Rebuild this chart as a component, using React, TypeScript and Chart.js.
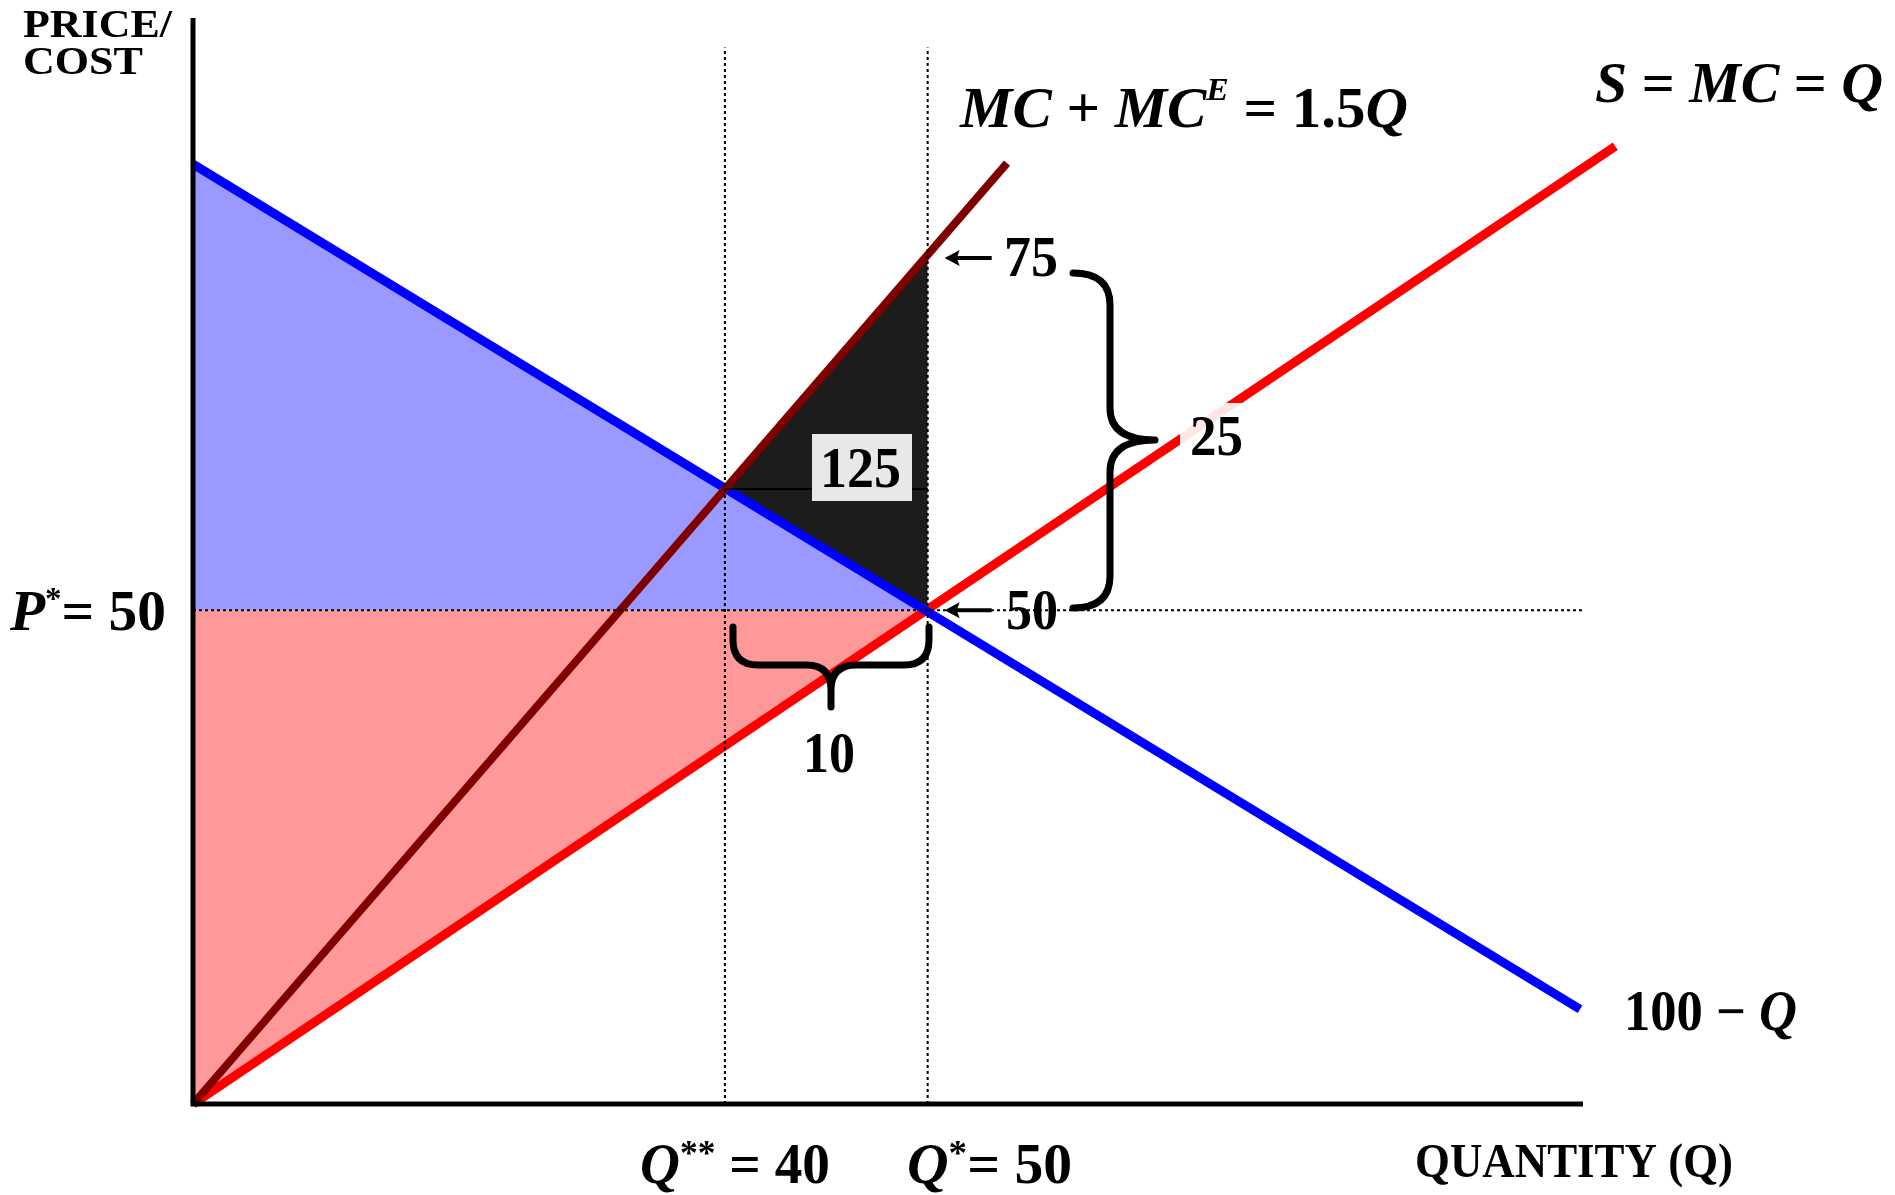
import React, { useEffect, useRef } from "react";
import { Chart, registerables } from "chart.js";

Chart.register(...registerables);

// ---- Plot extents (drawing units) ----
const X_MAX = 94.6;
const Y_MAX = 110;

// Demand: 100 − Q
const demandQ = [0, 94.4];
const demandP = [95.2, 9.6];
// Supply: S = MC = Q
const supplyQ = [0, 96.8];
const supplyP = [0, 97.0];
// Social cost: MC + MC^E = 1.5Q
const socialQ = [0, 55.4];
const socialP = [0, 95.3];

// Key points
const qStar = 50;
const pStar = 50;
const qStarStar = 36.2;
const pStarStar = 62.3;
const pSocialAtQStar = 86.0;
const guideTop = 107;

// Labels
const yAxisLabel = ["PRICE/", "COST"];
const xAxisLabel = "QUANTITY (Q)";
const dwlValue = "125";
const gapValue = "25";
const qGapValue = "10";
const upperValue = "75";
const lowerValue = "50";

const SERIF = "'Liberation Serif', 'Times New Roman', serif";
const B = (s: number) => `bold ${s}px ${SERIF}`;
const BI = (s: number) => `italic bold ${s}px ${SERIF}`;

type Run = { t: string; font: string; dy?: number };

function drawRuns(ctx: CanvasRenderingContext2D, runs: Run[], x: number, y: number, width?: number) {
  ctx.save();
  let total = 0;
  const ws = runs.map((r) => {
    ctx.font = r.font;
    const w = ctx.measureText(r.t).width;
    total += w;
    return w;
  });
  const sx = width ? width / total : 1;
  ctx.translate(x, y);
  ctx.scale(sx, 1);
  ctx.fillStyle = "#000";
  ctx.textBaseline = "alphabetic";
  ctx.textAlign = "left";
  let cx = 0;
  runs.forEach((r, i) => {
    ctx.font = r.font;
    ctx.fillText(r.t, cx, r.dy || 0);
    cx += ws[i];
  });
  ctx.restore();
}

function arrowLeft(ctx: CanvasRenderingContext2D, tipX: number, y: number, tailX: number) {
  ctx.save();
  ctx.strokeStyle = "#000";
  ctx.fillStyle = "#000";
  ctx.lineWidth = 4;
  ctx.beginPath();
  ctx.moveTo(tipX + 10, y);
  ctx.lineTo(tailX, y);
  ctx.stroke();
  ctx.beginPath();
  ctx.moveTo(tipX, y);
  ctx.lineTo(tipX + 15, y - 8);
  ctx.lineTo(tipX + 12, y);
  ctx.lineTo(tipX + 15, y + 8);
  ctx.closePath();
  ctx.fill();
  ctx.restore();
}

function braceRight(ctx: CanvasRenderingContext2D, xa: number, xv: number, xt: number, yt: number, ym: number, yb: number, r: number) {
  ctx.save();
  ctx.strokeStyle = "#000";
  ctx.lineWidth = 7;
  ctx.lineCap = "round";
  ctx.lineJoin = "round";
  ctx.beginPath();
  ctx.moveTo(xa, yt);
  ctx.quadraticCurveTo(xv, yt, xv, yt + r);
  ctx.lineTo(xv, ym - r);
  ctx.quadraticCurveTo(xv, ym, xt, ym);
  ctx.quadraticCurveTo(xv, ym, xv, ym + r);
  ctx.lineTo(xv, yb - r);
  ctx.quadraticCurveTo(xv, yb, xa, yb);
  ctx.stroke();
  ctx.restore();
}

function braceDown(ctx: CanvasRenderingContext2D, xl: number, xr: number, xt: number, yTop: number, yBar: number, yTip: number, r: number) {
  ctx.save();
  ctx.strokeStyle = "#000";
  ctx.lineWidth = 7;
  ctx.lineCap = "round";
  ctx.lineJoin = "round";
  ctx.beginPath();
  ctx.moveTo(xl, yTop);
  ctx.lineTo(xl, yBar - r);
  ctx.quadraticCurveTo(xl, yBar, xl + r, yBar);
  ctx.lineTo(xt - r, yBar);
  ctx.quadraticCurveTo(xt, yBar, xt, yBar + r);
  ctx.lineTo(xt, yTip);
  ctx.moveTo(xt, yBar + r);
  ctx.quadraticCurveTo(xt, yBar, xt + r, yBar);
  ctx.lineTo(xr - r, yBar);
  ctx.quadraticCurveTo(xr, yBar, xr, yBar - r);
  ctx.lineTo(xr, yTop);
  ctx.stroke();
  ctx.restore();
}

const annotations = {
  id: "annotations",
  afterDatasetsDraw(chart: any) {
    const ctx: CanvasRenderingContext2D = chart.ctx;
    const xs = chart.scales.x;
    const ys = chart.scales.y;
    const x0 = xs.getPixelForValue(0);
    const y0 = ys.getPixelForValue(0);
    const xEnd = xs.getPixelForValue(X_MAX);
    const yTop = ys.getPixelForValue(Y_MAX);
    const xq = xs.getPixelForValue(qStar);
    const yHi = ys.getPixelForValue(pSocialAtQStar);
    const yLo = ys.getPixelForValue(pStar);

    // axes
    ctx.save();
    ctx.strokeStyle = "#000";
    ctx.lineWidth = 5;
    ctx.beginPath();
    ctx.moveTo(x0, yTop);
    ctx.lineTo(x0, y0 + 2.5);
    ctx.moveTo(x0 - 2.5, y0);
    ctx.lineTo(xEnd, y0);
    ctx.stroke();
    ctx.restore();

    // arrows
    arrowLeft(ctx, xq + 17, yHi + 3, xq + 64);
    arrowLeft(ctx, xq + 17, yLo, xq + 64);

    // braces
    braceRight(ctx, 1073, 1110, 1155, 273, 440, 608, 32);
    braceDown(ctx, 733, 929, 831, 627, 665, 707, 25);

    // label boxes
    ctx.save();
    ctx.fillStyle = "rgba(255,255,255,0.9)";
    ctx.fillRect(812, 434, 100, 67);
    ctx.fillRect(1180, 403, 73, 67);
    ctx.restore();

    // texts
    drawRuns(ctx, [{ t: yAxisLabel[0], font: B(40) }], 23, 37, 149);
    drawRuns(ctx, [{ t: yAxisLabel[1], font: B(40) }], 23, 74, 120);
    drawRuns(ctx, [{ t: xAxisLabel, font: B(48) }], 1415, 1177, 318);

    drawRuns(
      ctx,
      [
        { t: "MC", font: BI(56) },
        { t: " + ", font: B(56) },
        { t: "MC", font: BI(56) },
        { t: "E", font: BI(32), dy: -27 },
        { t: " = ", font: B(56) },
        { t: "1.5", font: B(56) },
        { t: "Q", font: BI(56) },
      ],
      960,
      127,
      448
    );
    drawRuns(
      ctx,
      [
        { t: "S", font: BI(56) },
        { t: " = ", font: B(56) },
        { t: "MC", font: BI(56) },
        { t: " = ", font: B(56) },
        { t: "Q", font: BI(56) },
      ],
      1595,
      102,
      288
    );
    drawRuns(ctx, [{ t: upperValue, font: B(56) }], 1004, 276, 54);
    drawRuns(ctx, [{ t: lowerValue, font: B(56) }], 1006, 629, 52);
    drawRuns(ctx, [{ t: gapValue, font: B(56) }], 1190, 455, 53);
    drawRuns(ctx, [{ t: dwlValue, font: B(56) }], 820, 487, 81);
    drawRuns(ctx, [{ t: qGapValue, font: B(56) }], 803, 772, 52);
    drawRuns(
      ctx,
      [
        { t: "P", font: BI(56) },
        { t: "*", font: B(32), dy: -21 },
        { t: "= ", font: B(56) },
        { t: "50", font: B(56) },
      ],
      10,
      630,
      156
    );
    drawRuns(
      ctx,
      [
        { t: "100 ", font: B(56) },
        { t: "\u2212 ", font: B(56) },
        { t: "Q", font: BI(56) },
      ],
      1624,
      1030,
      173
    );
    drawRuns(
      ctx,
      [
        { t: "Q", font: BI(56) },
        { t: "**", font: B(36), dy: -18 },
        { t: " = 40", font: B(56) },
      ],
      640,
      1183,
      190
    );
    drawRuns(
      ctx,
      [
        { t: "Q", font: BI(56) },
        { t: "*", font: B(36), dy: -18 },
        { t: "= 50", font: B(56) },
      ],
      907,
      1183,
      165
    );
  },
};

const pts = (xs: number[], ys: number[]) => xs.map((x, i) => ({ x, y: ys[i] }));

export default function App() {
  const ref = useRef<HTMLCanvasElement | null>(null);

  useEffect(() => {
    if (!ref.current) return;
    const none = "rgba(0,0,0,0)";
    const base = { pointRadius: 0, tension: 0, clip: false as any, borderCapStyle: "butt" as const };
    const datasets: any[] = [
      { ...base, label: "consumer", data: [{ x: 0, y: demandP[0] }, { x: qStar, y: pStar }], borderColor: none, borderWidth: 0, backgroundColor: "rgb(153,153,255)", fill: { value: pStar } },
      { ...base, label: "producer", data: [{ x: 0, y: 0 }, { x: qStar, y: pStar }], borderColor: none, borderWidth: 0, backgroundColor: "rgb(255,153,153)", fill: { value: pStar } },
      { ...base, label: "dwlTop", data: [{ x: qStarStar, y: pStarStar }, { x: qStar, y: pSocialAtQStar }], borderColor: none, borderWidth: 0, backgroundColor: "rgb(28,28,28)", fill: 3 },
      { ...base, label: "dwlBottom", data: [{ x: qStarStar, y: pStarStar }, { x: qStar, y: pStar }], borderColor: none, borderWidth: 0, fill: false },
      { ...base, label: "supply", data: pts(supplyQ, supplyP), borderColor: "rgb(255,0,0)", borderWidth: 9, fill: false },
      { ...base, label: "demand", data: pts(demandQ, demandP), borderColor: "rgb(0,0,255)", borderWidth: 9, fill: false },
      { ...base, label: "social", data: pts(socialQ, socialP), borderColor: "rgb(128,0,0)", borderWidth: 8, fill: false },
      { ...base, label: "dwlLevel", data: [{ x: qStarStar, y: pStarStar }, { x: qStar, y: pStarStar }], borderColor: "#000", borderWidth: 2, fill: false },
      { ...base, label: "qStarStarGuide", data: [{ x: qStarStar, y: 0 }, { x: qStarStar, y: guideTop }], borderColor: "#000", borderWidth: 2, borderDash: [3, 3], fill: false },
      { ...base, label: "qStarGuide", data: [{ x: qStar, y: 0 }, { x: qStar, y: guideTop }], borderColor: "#000", borderWidth: 2, borderDash: [3, 3], fill: false },
      { ...base, label: "pStarGuide", data: [{ x: 0, y: pStar }, { x: X_MAX, y: pStar }], borderColor: "#000", borderWidth: 2, borderDash: [3, 3], fill: false },
    ];
    datasets.forEach((d, i) => (d.order = 100 - i));

    const chart = new Chart(ref.current, {
      type: "line",
      data: { datasets },
      options: {
        animation: false,
        responsive: false,
        devicePixelRatio: 1,
        events: [],
        layout: { padding: { left: 193, right: 312, top: 18, bottom: 91 } },
        scales: {
          x: { type: "linear", min: 0, max: X_MAX, display: false },
          y: { type: "linear", min: 0, max: Y_MAX, display: false },
        },
        plugins: {
          legend: { display: false },
          tooltip: { enabled: false },
          filler: { drawTime: "beforeDatasetsDraw" },
        } as any,
      },
      plugins: [annotations],
    });
    return () => chart.destroy();
  }, []);

  return (
    <div style={{ position: "fixed", left: 0, top: 0, width: 1895, height: 1195, background: "#fff" }}>
      <canvas ref={ref} width={1895} height={1195} style={{ display: "block" }} />
    </div>
  );
}
